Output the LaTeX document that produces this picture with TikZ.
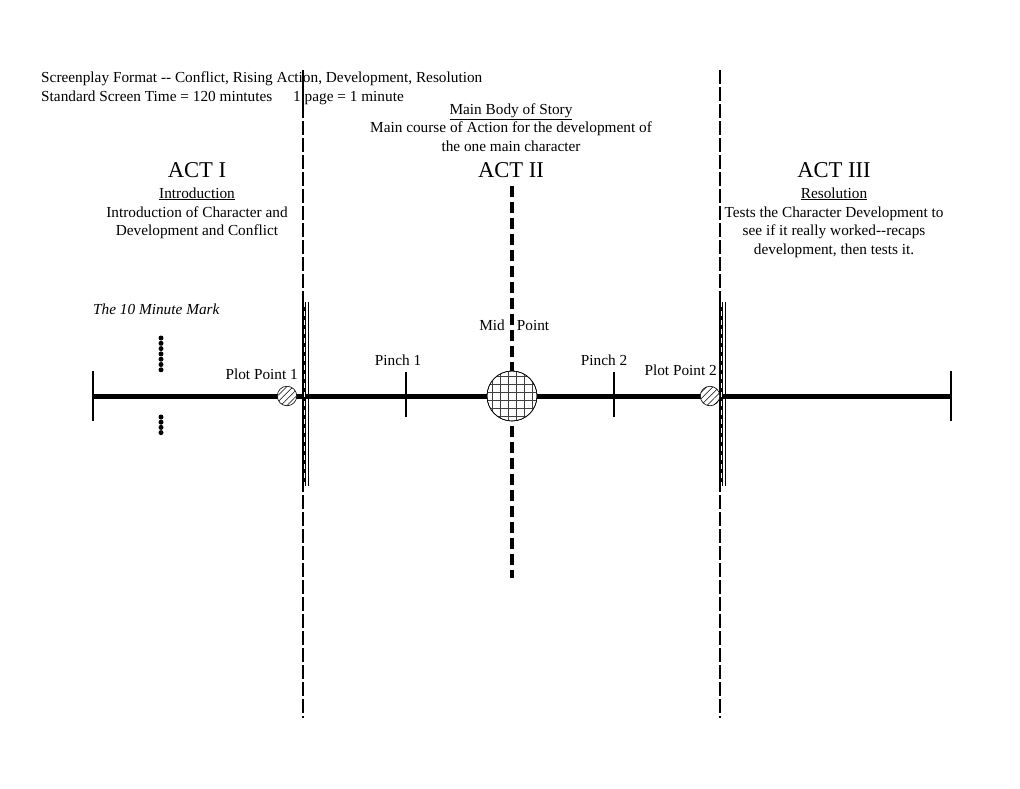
\documentclass[tikz,border=0pt]{standalone}
\usepackage{fontspec}
\setmainfont{Liberation Serif}
\usetikzlibrary{patterns.meta}
\begin{document}
\begin{tikzpicture}[x=1pt,y=-1pt,
  txt/.style={font=\fontsize{15.3}{17}\selectfont, inner sep=0pt, anchor=base},
  acttitle/.style={font=\fontsize{22.6}{24}\selectfont, inner sep=0pt, anchor=base},
  actline/.style={line width=1.8pt, dash pattern=on 14pt off 3pt},
  midline/.style={line width=4pt, dash pattern=on 11pt off 5pt},
  timeline/.style={line width=5pt},
  endtick/.style={line width=1.2pt},
  ppcircle/.style={circle, draw, line width=0.6pt, minimum size=19.5pt, inner sep=0pt, fill=white},
  hatch/.style={postaction={pattern={Lines[angle=45,distance=4.5pt,line width=0.5pt]}}},
  dotmark/.style={circle, fill=black, inner sep=0pt, minimum size=5pt}]
\useasboundingbox (0,0) rectangle (1020,788);

% header text
\node[txt, anchor=base west] (h1) at (41,82) {Screenplay Format -{}- Conflict, Rising Action, Development, Resolution};
\node[txt, anchor=base west] (h2) at (41,101) {Standard Screen Time = 120 mintutes};
\node[txt, anchor=base west] (h3) at (293,101) {1 page = 1 minute};

% act II header
\node[txt] (mb) at (511,114) {\underline{Main Body of Story}};
\node[txt] (mc1) at (511,132) {Main course of Action for the development of};
\node[txt] (mc2) at (511,151) {the one main character};

% act titles
\node[acttitle] (act1) at (197,177) {ACT I};
\node[acttitle] (act2) at (511,177) {ACT II};
\node[acttitle] (act3) at (834,177) {ACT III};

% act I text
\node[txt] (intro) at (197,198) {\underline{Introduction}};
\node[txt] (i1) at (197,217) {Introduction of Character and};
\node[txt] (i2) at (197,235) {Development and Conflict};

% act III text
\node[txt] (res) at (834,198) {\underline{Resolution}};
\node[txt] (r1) at (834,217) {Tests the Character Development to};
\node[txt] (r2) at (834,235) {see if it really worked-{}-recaps};
\node[txt] (r3) at (834,254) {development, then tests it.};

% act dividers
\coordinate (d1t) at (303,70);
\coordinate (d1m) at (303,104);
\coordinate (d1b) at (303,718);
\coordinate (d2t) at (720,70);
\coordinate (d2b) at (720,718);
\draw[line width=1.8pt] (d1t) -- (d1m);
\draw[actline] (d1m) -- (d1b);
\draw[actline] (d2t) -- (d2b);

% mid line
\coordinate (mt) at (512,186);
\coordinate (mbt) at (512,578);
\draw[midline] (mt) -- (mbt);

% timeline
\coordinate (L) at (93,396);
\coordinate (R) at (951,396);
\draw[timeline] (L) -- (R);
\coordinate (Lt) at (93,371);
\coordinate (Lb) at (93,421);
\coordinate (Rt) at (951,371);
\coordinate (Rb) at (951,421);
\draw[endtick] (Lt) -- (Lb);
\draw[endtick] (Rt) -- (Rb);

% pinch ticks
\coordinate (p1t) at (406,372);
\coordinate (p1b) at (406,417);
\coordinate (p2t) at (614,372);
\coordinate (p2b) at (614,417);
\draw[endtick] (p1t) -- (p1b);
\draw[endtick] (p2t) -- (p2b);
\node[txt] (pinch1) at (398,365) {Pinch 1};
\node[txt] (pinch2) at (604,365) {Pinch 2};

% plot point double lines
\foreach \x/\n in {304/a,721/b}{
  \coordinate (pp\n t) at (\x,302);
  \coordinate (pp\n b) at (\x,486);
  \coordinate (pp\n t2) at (\x+4.5,302);
  \coordinate (pp\n b2) at (\x+4.5,486);
  \draw[line width=3.4pt] (pp\n t) -- (pp\n b);
  \draw[white, line width=0.6pt, dash pattern=on 5pt off 4pt] (pp\n t) -- (pp\n b);
  \draw[line width=1pt] (pp\n t2) -- (pp\n b2);
}

% plot point circles
\node[ppcircle, hatch] (pp1) at (287,396) {};
\node[ppcircle, hatch] (pp2) at (710,396) {};
\node[txt, anchor=base east] (ppl1) at (298,379) {Plot Point 1};
\node[txt, anchor=base east] (ppl2) at (717,375) {Plot Point 2};

% mid point circle
\node[circle, draw, line width=0.6pt, minimum size=50pt, inner sep=0pt, fill=white] (mid) at (512,396) {};
\begin{scope}
  \clip (mid.center) circle (25);
  \foreach \k in {-3,...,3}{
    \draw[line width=0.6pt, black!75] (512+8*\k-4,368) -- (512+8*\k-4,424);
    \draw[line width=0.6pt, black!75] (484,396+8*\k-4) -- (540,396+8*\k-4);
  }
\end{scope}
\draw[line width=0.6pt] (mid.center) circle (25);

\node[txt] (midl) at (492,330) {Mid};
\node[txt] (pointl) at (533,330) {Point};

% 10 minute mark
\node[txt, anchor=base west, font=\fontsize{15.3}{17}\selectfont\itshape] (tenmin) at (93,314) {The 10 Minute Mark};
\foreach \i in {0,...,6}{
  \node[dotmark] (da\i) at (161,338+5.3*\i) {};
}
\foreach \i in {0,...,3}{
  \node[dotmark] (db\i) at (161,417+5.2*\i) {};
}
\end{tikzpicture}
\end{document}
